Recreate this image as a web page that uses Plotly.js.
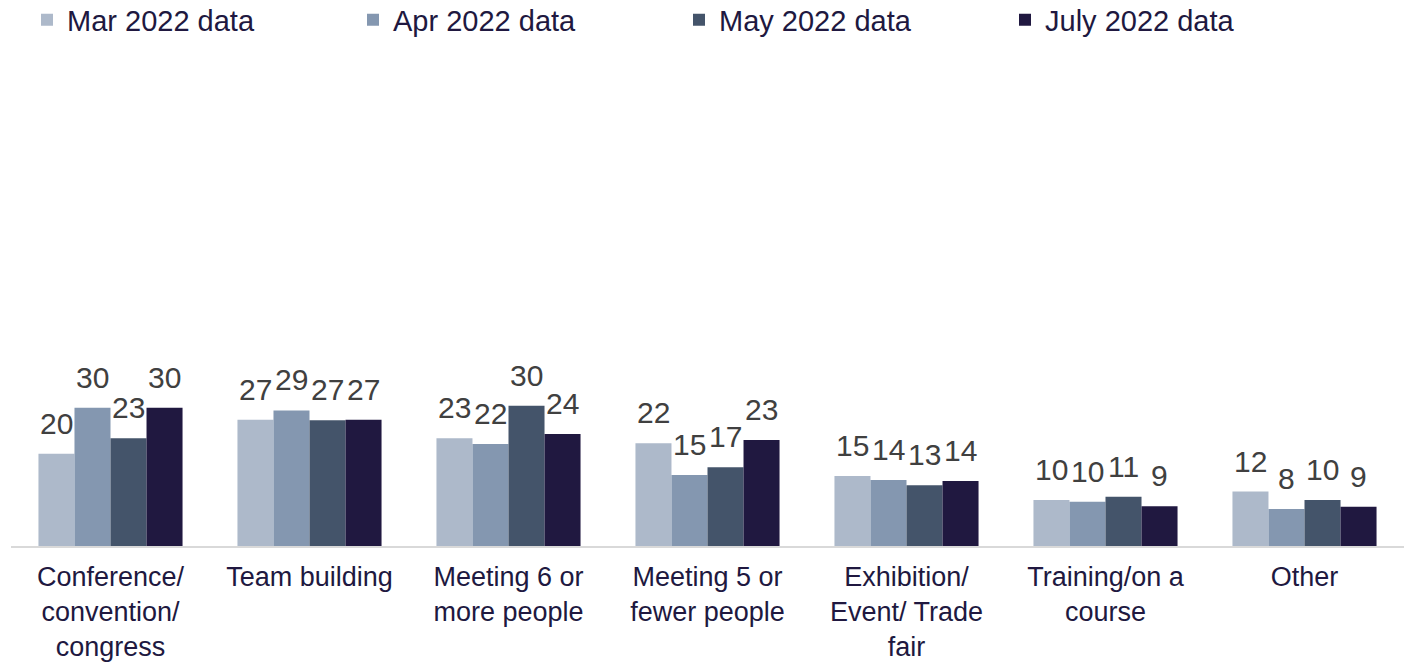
<!DOCTYPE html>
<html>
<head>
<meta charset="utf-8">
<script src="https://cdn.plot.ly/plotly-3.0.1.min.js"></script>
<style>html,body{margin:0;padding:0;background:#fff;}#chart{width:1409px;height:663px;}</style>
</head>
<body>
<div id="chart"></div>
<script>
const categories = [
  "Conference/<br>convention/<br>congress",
  "Team building",
  "Meeting 6 or<br>more people",
  "Meeting 5 or<br>fewer people",
  "Exhibition/<br>Event/ Trade<br>fair",
  "Training/on a<br>course",
  "Other"
];
const seriesNames = ["Mar 2022 data", "Apr 2022 data", "May 2022 data", "July 2022 data"];
const mar2022 = [20.0, 27.4, 23.4, 22.3, 15.2, 10.0, 11.8];
const apr2022 = [30.0, 29.4, 22.1, 15.4, 14.3, 9.6, 8.0];
const may2022 = [23.4, 27.3, 30.4, 17.1, 13.2, 10.7, 10.0];
const jul2022 = [30.0, 27.4, 24.3, 23.0, 14.1, 8.6, 8.5];
const seriesValues = [mar2022, apr2022, may2022, jul2022];
const colors = ["#adb9ca", "#8497b0", "#44546a", "#201840"];

const FONT = "Liberation Sans, Arial, sans-serif";
const W = 1409, H = 663;
const margin = {l: 11, r: 5, t: 85, b: 117};
const bargap = 0.276;

const traces = seriesValues.map((vals, i) => ({
  type: "bar",
  name: seriesNames[i],
  x: categories,
  y: vals,
  marker: {color: colors[i]},
  hoverinfo: "skip"
}));

// data labels above each bar, built from the data arrays
const plotW = W - margin.l - margin.r;
const barPx = plotW / categories.length * (1 - bargap) / seriesValues.length;
const annotations = [];
seriesValues.forEach((vals, i) => {
  vals.forEach((v, j) => {
    annotations.push({
      x: categories[j], y: v, xref: "x", yref: "y",
      text: String(Math.round(v)),
      showarrow: false,
      xanchor: "center", yanchor: "bottom",
      xshift: (i - (seriesValues.length - 1) / 2) * barPx,
      yshift: 12,
      font: {family: FONT, size: 30, color: "#404040"}
    });
  });
});

const layout = {
  width: W,
  height: H,
  margin: margin,
  paper_bgcolor: "#ffffff",
  plot_bgcolor: "#ffffff",
  barmode: "group",
  bargap: bargap,
  bargroupgap: 0,
  font: {family: FONT, size: 29, color: "#201840"},
  showlegend: true,
  legend: {
    orientation: "h",
    xref: "container", yref: "container",
    x: 27 / W, y: 1 - 20 / H, xanchor: "left", yanchor: "middle",
    entrywidth: 281, entrywidthmode: "pixels",
    font: {family: FONT, size: 29, color: "#201840"},
    traceorder: "normal"
  },
  annotations: annotations,
  xaxis: {
    type: "category",
    showgrid: false,
    zeroline: false,
    showline: true,
    linecolor: "#d9d9d9",
    linewidth: 1.5,
    ticks: "",
    ticklabelstandoff: 6,
    tickfont: {family: FONT, size: 27, color: "#201840"},
    fixedrange: true
  },
  yaxis: {
    range: [0, 100],
    visible: false,
    showgrid: false,
    zeroline: false,
    fixedrange: true
  }
};

Plotly.newPlot("chart", traces, layout, {displayModeBar: false, staticPlot: true});
</script>
</body>
</html>
